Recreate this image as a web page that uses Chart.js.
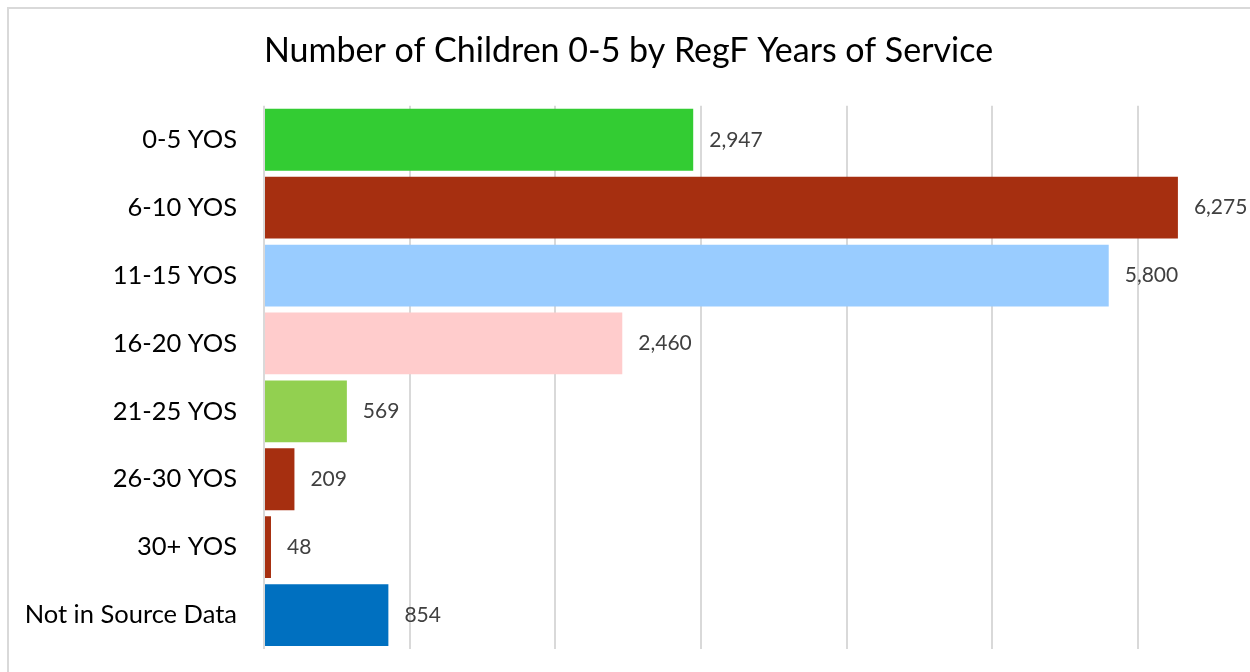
<!DOCTYPE html>
<html>
<head>
<meta charset="utf-8">
<script src="https://cdn.jsdelivr.net/npm/chart.js@4.4.0/dist/chart.umd.min.js"></script>
<style>
  html, body { margin: 0; padding: 0; background: #fff; overflow: hidden; width: 1250px; height: 672px; }
  #frame { position: absolute; left: 7px; top: 7px; width: 1300px; height: 700px; border: 2px solid #d9d9d9; box-sizing: border-box; }
  #grafiek { position: absolute; left: 7px; top: 7px; }
</style>
</head>
<body>
<div id="frame"></div>
<canvas id="grafiek" width="1246" height="665"></canvas>
<script>
// categorieen en waarden
const categories = ["0-5 YOS", "6-10 YOS", "11-15 YOS", "16-20 YOS", "21-25 YOS", "26-30 YOS", "30+ YOS", "Not in Source Data"];
const childCounts = [2947, 6275, 5800, 2460, 569, 209, 48, 854];
const barColors = ["#33cc33", "#a62f10", "#99ccff", "#ffcccc", "#92d050", "#a62f10", "#a62f10", "#0070c0"];
const gridValues = [0, 1000, 2000, 3000, 4000, 5000, 6000];
const titleText = "Number of Children 0-5 by RegF Years of Service";

const fontFam = "Lato, 'Open Sans', sans-serif";

// labels achter de balken
const barLabels = {
    id: "barLabels",
    afterDatasetsDraw(chart) {
        const c = chart.ctx;
        const meta = chart.getDatasetMeta(0);
        c.save();
        c.font = "21px " + fontFam;
        c.fillStyle = "#404040";
        c.textAlign = "left";
        c.textBaseline = "middle";
        meta.data.forEach((bar, i) => {
            c.fillText(childCounts[i].toLocaleString("en-US"), bar.x + 16, bar.y);
        });
        c.restore();
    }
};

new Chart(document.getElementById("grafiek"), {
    type: "bar",
    data: {
        labels: categories,
        datasets: [{
            data: childCounts,
            backgroundColor: barColors,
            borderWidth: 0,
            categoryPercentage: 1,
            barPercentage: 0.91
        }]
    },
    options: {
        indexAxis: "y",
        responsive: false,
        animation: false,
        layout: { padding: { left: 0, right: 3, top: 0, bottom: 23 } },
        plugins: {
            legend: { display: false },
            tooltip: { enabled: false },
            title: {
                display: true,
                text: titleText,
                color: "#000",
                font: { family: fontFam, size: 34, weight: "normal" },
                padding: { top: 24, bottom: 34 }
            }
        },
        scales: {
            x: {
                min: 0,
                max: 6770,
                ticks: { display: false },
                // rasterlijnen op hele duizendtallen
                afterBuildTicks(scale) {
                    scale.ticks = gridValues.map(v => ({ value: v }));
                },
                grid: { color: "#d9d9d9", lineWidth: 2, drawTicks: false },
                border: { display: false }
            },
            y: {
                afterFit(scale) {
                    scale.width = 257;
                    scale.paddingTop = 0;
                    scale.paddingBottom = 0;
                },
                ticks: { color: "#000", padding: 27, font: { family: fontFam, size: 25.5 } },
                grid: { display: false, drawTicks: false },
                border: { display: false }
            }
        }
    },
    plugins: [barLabels]
});
</script>
</body>
</html>
